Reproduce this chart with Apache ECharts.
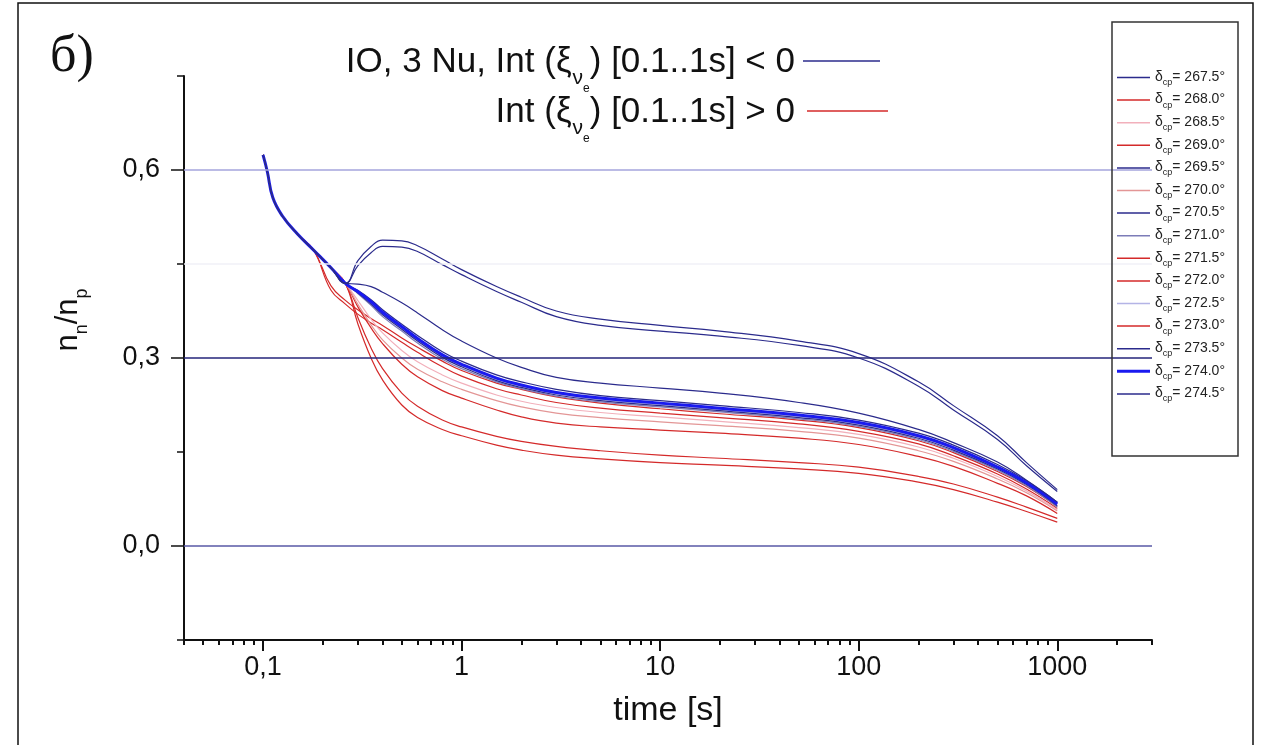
<!DOCTYPE html>
<html><head><meta charset="utf-8">
<script src="https://cdn.jsdelivr.net/npm/echarts@6/dist/echarts.min.js"></script>
<style>html,body{margin:0;padding:0;background:#fff}#c{width:1270px;height:745px}</style>
</head><body><div id="c"></div>
<script>
// ---- data ----
const T_HEAD = [0.1, 0.105, 0.112, 0.125, 0.15, 0.18];
const V_HEAD = [0.624, 0.598, 0.556, 0.527, 0.497, 0.472];
const T_TAIL = [0.22, 0.26, 0.3, 0.35, 0.4, 0.5, 0.6, 0.8, 1, 1.5, 2, 3, 5, 10, 20, 50, 100, 200, 300, 500, 700, 1000];

const d2675 = [0.444, 0.419, 0.455, 0.478, 0.488, 0.487, 0.479, 0.458, 0.441, 0.414, 0.397, 0.375, 0.362, 0.352, 0.343, 0.327, 0.307, 0.262, 0.224, 0.176, 0.133, 0.090];
const d2695 = [0.444, 0.419, 0.447, 0.468, 0.478, 0.477, 0.470, 0.449, 0.433, 0.406, 0.389, 0.366, 0.352, 0.343, 0.335, 0.320, 0.300, 0.255, 0.217, 0.170, 0.128, 0.087];
const d2705 = [0.444, 0.419, 0.418, 0.414, 0.405, 0.388, 0.372, 0.345, 0.327, 0.300, 0.285, 0.269, 0.260, 0.252, 0.244, 0.229, 0.212, 0.186, 0.165, 0.134, 0.105, 0.070];
const d2740 = [0.444, 0.419, 0.406, 0.390, 0.373, 0.350, 0.331, 0.305, 0.290, 0.268, 0.257, 0.245, 0.236, 0.228, 0.220, 0.209, 0.197, 0.176, 0.157, 0.126, 0.101, 0.067];
const d2735 = [0.444, 0.419, 0.408, 0.393, 0.377, 0.354, 0.336, 0.310, 0.295, 0.273, 0.262, 0.250, 0.240, 0.232, 0.224, 0.213, 0.201, 0.180, 0.161, 0.130, 0.104, 0.070];
const d2745 = [0.444, 0.419, 0.404, 0.386, 0.369, 0.346, 0.327, 0.301, 0.286, 0.264, 0.253, 0.241, 0.232, 0.224, 0.216, 0.205, 0.193, 0.172, 0.153, 0.123, 0.098, 0.064];
const d2710 = [0.444, 0.419, 0.403, 0.384, 0.366, 0.343, 0.324, 0.298, 0.283, 0.262, 0.251, 0.239, 0.230, 0.222, 0.214, 0.203, 0.191, 0.170, 0.151, 0.121, 0.096, 0.062];
const d2725 = [0.444, 0.419, 0.405, 0.388, 0.371, 0.348, 0.329, 0.303, 0.288, 0.266, 0.255, 0.243, 0.234, 0.226, 0.218, 0.207, 0.195, 0.174, 0.155, 0.124, 0.099, 0.065];
const d2720 = [0.408, 0.386, 0.370, 0.356, 0.345, 0.325, 0.309, 0.286, 0.271, 0.251, 0.241, 0.229, 0.220, 0.212, 0.205, 0.195, 0.183, 0.163, 0.144, 0.115, 0.091, 0.060];
const d2730 = [0.415, 0.392, 0.377, 0.363, 0.352, 0.332, 0.317, 0.295, 0.280, 0.260, 0.250, 0.238, 0.228, 0.219, 0.211, 0.201, 0.189, 0.168, 0.149, 0.119, 0.095, 0.063];
const d2685 = [0.444, 0.419, 0.392, 0.362, 0.340, 0.312, 0.294, 0.273, 0.260, 0.241, 0.231, 0.221, 0.213, 0.206, 0.199, 0.189, 0.178, 0.158, 0.140, 0.111, 0.088, 0.058];
const d2700 = [0.444, 0.419, 0.386, 0.353, 0.329, 0.300, 0.282, 0.262, 0.250, 0.232, 0.222, 0.212, 0.205, 0.198, 0.192, 0.183, 0.172, 0.152, 0.135, 0.107, 0.085, 0.056];
const d2715 = [0.444, 0.419, 0.382, 0.348, 0.323, 0.290, 0.270, 0.248, 0.236, 0.217, 0.206, 0.196, 0.190, 0.185, 0.180, 0.172, 0.162, 0.143, 0.127, 0.100, 0.080, 0.052];
const d2690 = [0.444, 0.419, 0.365, 0.316, 0.283, 0.244, 0.223, 0.201, 0.190, 0.175, 0.167, 0.159, 0.152, 0.145, 0.140, 0.133, 0.126, 0.111, 0.099, 0.078, 0.062, 0.044];
const d2680 = [0.444, 0.419, 0.355, 0.300, 0.265, 0.225, 0.205, 0.186, 0.176, 0.161, 0.153, 0.145, 0.139, 0.133, 0.129, 0.123, 0.116, 0.102, 0.090, 0.070, 0.055, 0.038];

const LEGEND_ORDER = ['267.5','268.0','268.5','269.0','269.5','270.0','270.5','271.0','271.5','272.0','272.5','273.0','273.5','274.0','274.5'];
const X_MAJOR_TICKS = [0.1, 1, 10, 100, 1000];
const X_MINOR_TICKS = [0.04,0.05,0.06,0.07,0.08,0.09,0.2,0.3,0.4,0.5,0.6,0.7,0.8,0.9,2,3,4,5,6,7,8,9,20,30,40,50,60,70,80,90,200,300,400,500,600,700,800,900,2000,3000];
const Y_LABEL_TICKS = [0, 0.3, 0.6];
const REF_LINES = [0.6, 0.45, 0.3, 0.0];

// ---- styles ----
const NAVY = '#2b2b8c', RED = '#d42a2a';
const REF_COLORS = ['#a4a4dc', '#f0f0f7', '#24247a', '#5858a6'];
const F = '"Liberation Sans", Arial, sans-serif';

// draw order: reds first, blues on top
const SERIES_DEF = [
  ['268.0', d2680, RED, 1.2],
  ['269.0', d2690, RED, 1.2],
  ['271.5', d2715, RED, 1.2],
  ['272.0', d2720, RED, 1.2],
  ['273.0', d2730, RED, 1.2],
  ['268.5', d2685, '#f2b0bb', 1.2],
  ['270.0', d2700, '#e39696', 1.2],
  ['271.0', d2710, '#7c7cb8', 1.2],
  ['272.5', d2725, '#b4b4e6', 1.2],
  ['274.5', d2745, NAVY, 1.2],
  ['273.5', d2735, NAVY, 1.2],
  ['274.0', d2740, '#1a1af0', 3],
  ['270.5', d2705, NAVY, 1.2],
  ['269.5', d2695, NAVY, 1.2],
  ['267.5', d2675, NAVY, 1.2]
];
const STYLE_BY_NAME = {};
SERIES_DEF.forEach(function (s) { STYLE_BY_NAME[s[0]] = s; });

const series = SERIES_DEF.map(function (s, k) {
  const data = T_HEAD.map(function (t, i) { return [t, V_HEAD[i]]; })
    .concat(T_TAIL.map(function (t, i) { return [t, s[1][i]]; }));
  const o = {
    name: s[0], type: 'line', data: data, symbol: 'none', showSymbol: false, smooth: 0.45,
    lineStyle: { color: s[2], width: s[3] }, itemStyle: { color: s[2] },
    silent: true, animation: false
  };
  if (k === 0) {
    o.markLine = {
      silent: true, symbol: ['none', 'none'], label: { show: false }, animation: false,
      data: REF_LINES.map(function (v, i) {
        return { yAxis: v, lineStyle: { color: REF_COLORS[i], width: 1.5, type: 'solid' } };
      })
    };
  }
  return o;
});

const legendData = LEGEND_ORDER.map(function (n) {
  const s = STYLE_BY_NAME[n];
  const h = s[3] > 2 ? 3 : 1.5;
  return { name: n, icon: 'path://M0,0H33V' + h + 'H0Z', itemStyle: { color: s[2] } };
});

const chart = echarts.init(document.getElementById('c'), null, { renderer: 'canvas' });
const xCommon = { type: 'log', logBase: 10, min: 0.04, max: 3000, gridIndex: 0, position: 'bottom', splitLine: { show: false } };
const yCommon = { type: 'value', min: -0.15, max: 0.75, interval: 0.15, position: 'left', splitLine: { show: false } };

const TITLE_RICH = {
  m: { fontSize: 35, fontFamily: F, fill: '#111', verticalAlign: 'top' },
  a: { fontSize: 21, fontFamily: F, fill: '#111', verticalAlign: 'top', padding: [23, 0, 0, 1] },
  b: { fontSize: 12, fontFamily: F, fill: '#111', verticalAlign: 'top', padding: [38, 0, 0, 0] }
};

chart.setOption({
  animation: false,
  backgroundColor: '#ffffff',
  grid: { left: 184, right: 118, top: 76, bottom: 105, containLabel: false },
  xAxis: [
    Object.assign({}, xCommon, {
      name: 'time [s]', nameLocation: 'middle', nameGap: 54,
      nameTextStyle: { fontSize: 34, color: '#111', fontFamily: F },
      axisLine: { show: true, onZero: false, lineStyle: { color: '#111', width: 2 } },
      axisTick: { show: true, inside: false, length: 11, customValues: X_MAJOR_TICKS, lineStyle: { color: '#111', width: 2 } },
      axisLabel: {
        show: true, customValues: X_MAJOR_TICKS, margin: 14, fontSize: 27, color: '#111', fontFamily: F,
        formatter: function (v) { return v < 0.5 ? '0,1' : String(Math.round(v)); }
      }
    }),
    Object.assign({}, xCommon, {
      axisLine: { show: false, onZero: false },
      axisTick: { show: true, inside: false, length: 5, customValues: X_MINOR_TICKS, lineStyle: { color: '#111', width: 2 } },
      axisLabel: { show: false }
    })
  ],
  yAxis: [
    Object.assign({}, yCommon, {
      axisLine: { show: true, onZero: false, lineStyle: { color: '#111', width: 2 } },
      axisTick: { show: true, inside: false, length: 7, lineStyle: { color: '#111', width: 1.5 } },
      axisLabel: {
        show: true, margin: 24, fontSize: 27, color: '#111', fontFamily: F,
        formatter: function (v) {
          for (let i = 0; i < Y_LABEL_TICKS.length; i++) {
            if (Math.abs(v - Y_LABEL_TICKS[i]) < 1e-9) return Y_LABEL_TICKS[i].toFixed(1).replace('.', ',');
          }
          return '';
        }
      }
    }),
    Object.assign({}, yCommon, {
      axisLine: { show: false, onZero: false },
      axisTick: { show: true, inside: false, length: 13, customValues: Y_LABEL_TICKS, lineStyle: { color: '#111', width: 1.5 } },
      axisLabel: { show: false }
    })
  ],
  legend: {
    data: legendData, orient: 'vertical', left: 1117, top: 70, padding: 0,
    itemWidth: 33, itemHeight: 14, itemGap: 5.6, selectedMode: false,
    formatter: function (name) { return '{d|δ}{s|cp}{t|= ' + name + '°}'; },
    textStyle: {
      fontSize: 14, color: '#222', fontFamily: F,
      rich: {
        d: { fontSize: 14, color: '#222', fontFamily: F, verticalAlign: 'top', padding: [2, 0, 0, 0] },
        s: { fontSize: 9, color: '#222', fontFamily: F, verticalAlign: 'top', padding: [10, 0, 0, 0] },
        t: { fontSize: 14, color: '#222', fontFamily: F, verticalAlign: 'top', padding: [2, 0, 0, 0] }
      }
    }
  },
  graphic: [
    { type: 'rect', silent: true, z: 100, shape: { x: 18, y: 3, width: 1235, height: 760 }, style: { fill: 'none', stroke: '#111', lineWidth: 1.5 } },
    { type: 'rect', silent: true, z: 100, shape: { x: 1112, y: 22, width: 126, height: 434 }, style: { fill: 'none', stroke: '#333', lineWidth: 1.5 } },
    { type: 'text', silent: true, z: 100, x: 50, y: 57, style: { text: 'б)', font: '52px "Liberation Serif", "DejaVu Serif", serif', fill: '#111', align: 'left', verticalAlign: 'middle' } },
    { type: 'text', silent: true, z: 100, x: 795, y: 45, style: {
      text: '{m|IO, 3 Nu, Int (ξ}{a|ν}{b|e}{m|) [0.1..1s] < 0}', align: 'right', verticalAlign: 'top', fill: '#111', rich: TITLE_RICH } },
    { type: 'text', silent: true, z: 100, x: 795, y: 95, style: {
      text: '{m|Int (ξ}{a|ν}{b|e}{m|) [0.1..1s] > 0}', align: 'right', verticalAlign: 'top', fill: '#111', rich: TITLE_RICH } },
    { type: 'line', silent: true, z: 100, shape: { x1: 803, y1: 61, x2: 880, y2: 61 }, style: { stroke: NAVY, lineWidth: 1.5 } },
    { type: 'line', silent: true, z: 100, shape: { x1: 807, y1: 111, x2: 888, y2: 111 }, style: { stroke: RED, lineWidth: 1.5 } },
    { type: 'text', silent: true, z: 100, x: 72, y: 320, rotation: Math.PI / 2, style: {
      text: '{m|n}{s|n}{m|/n}{s|p}', align: 'center', verticalAlign: 'middle', fill: '#111',
      rich: {
        m: { fontSize: 31, fontFamily: F, fill: '#111', verticalAlign: 'top' },
        s: { fontSize: 18, fontFamily: F, fill: '#111', verticalAlign: 'top', padding: [20, 0, 0, 0] }
      } } }
  ],
  series: series
});
</script>
</body></html>
